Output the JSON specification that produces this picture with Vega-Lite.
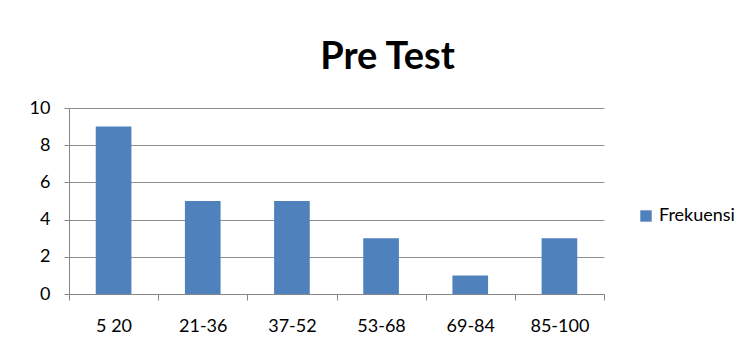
{
  "$schema": "https://vega.github.io/schema/vega-lite/v6.json",
  "autosize": "none",
  "width": 535,
  "height": 186,
  "padding": {"left": 69, "top": 108, "right": 147, "bottom": 53},
  "background": "white",
  "title": {
    "text": "Pre Test",
    "font": "Lato",
    "fontSize": 38,
    "fontWeight": "bold",
    "color": "#000000",
    "anchor": "middle",
    "dx": 51,
    "offset": 22
  },
  "data": {
    "values": [
      {"kelas": "5 20", "frekuensi": 9, "seri": "Frekuensi"},
      {"kelas": "21-36", "frekuensi": 5, "seri": "Frekuensi"},
      {"kelas": "37-52", "frekuensi": 5, "seri": "Frekuensi"},
      {"kelas": "53-68", "frekuensi": 3, "seri": "Frekuensi"},
      {"kelas": "69-84", "frekuensi": 1, "seri": "Frekuensi"},
      {"kelas": "85-100", "frekuensi": 3, "seri": "Frekuensi"}
    ]
  },
  "mark": {"type": "bar", "width": {"band": 0.4}},
  "encoding": {
    "x": {
      "field": "kelas",
      "type": "nominal",
      "sort": null,
      "scale": {"paddingInner": 0, "paddingOuter": 0},
      "axis": {
        "title": null,
        "labelAngle": 0,
        "labelFont": "Lato",
        "labelFontSize": 18,
        "labelColor": "#000000",
        "labelPadding": 17,
        "tickBand": "extent",
        "tickSize": 6,
        "tickColor": "#868686",
        "domainColor": "#868686",
        "grid": false
      }
    },
    "y": {
      "field": "frekuensi",
      "type": "quantitative",
      "scale": {"domain": [0, 10], "nice": false},
      "axis": {
        "title": null,
        "values": [0, 2, 4, 6, 8, 10],
        "labelFont": "Lato",
        "labelFontSize": 18,
        "labelColor": "#000000",
        "labelPadding": 14,
        "tickSize": 5,
        "tickColor": "#868686",
        "domainColor": "#868686",
        "grid": true,
        "gridColor": "#8E8E8E"
      }
    },
    "color": {
      "field": "seri",
      "type": "nominal",
      "scale": {"range": ["#4F81BD"]},
      "legend": {
        "title": null,
        "orient": "none",
        "legendX": 568,
        "legendY": 99,
        "symbolType": "square",
        "symbolSize": 130,
        "symbolOpacity": 1,
        "labelFont": "Lato",
        "labelFontSize": 18,
        "labelColor": "#000000",
        "labelOffset": 4
      }
    }
  },
  "config": {
    "view": {"stroke": null}
  }
}
